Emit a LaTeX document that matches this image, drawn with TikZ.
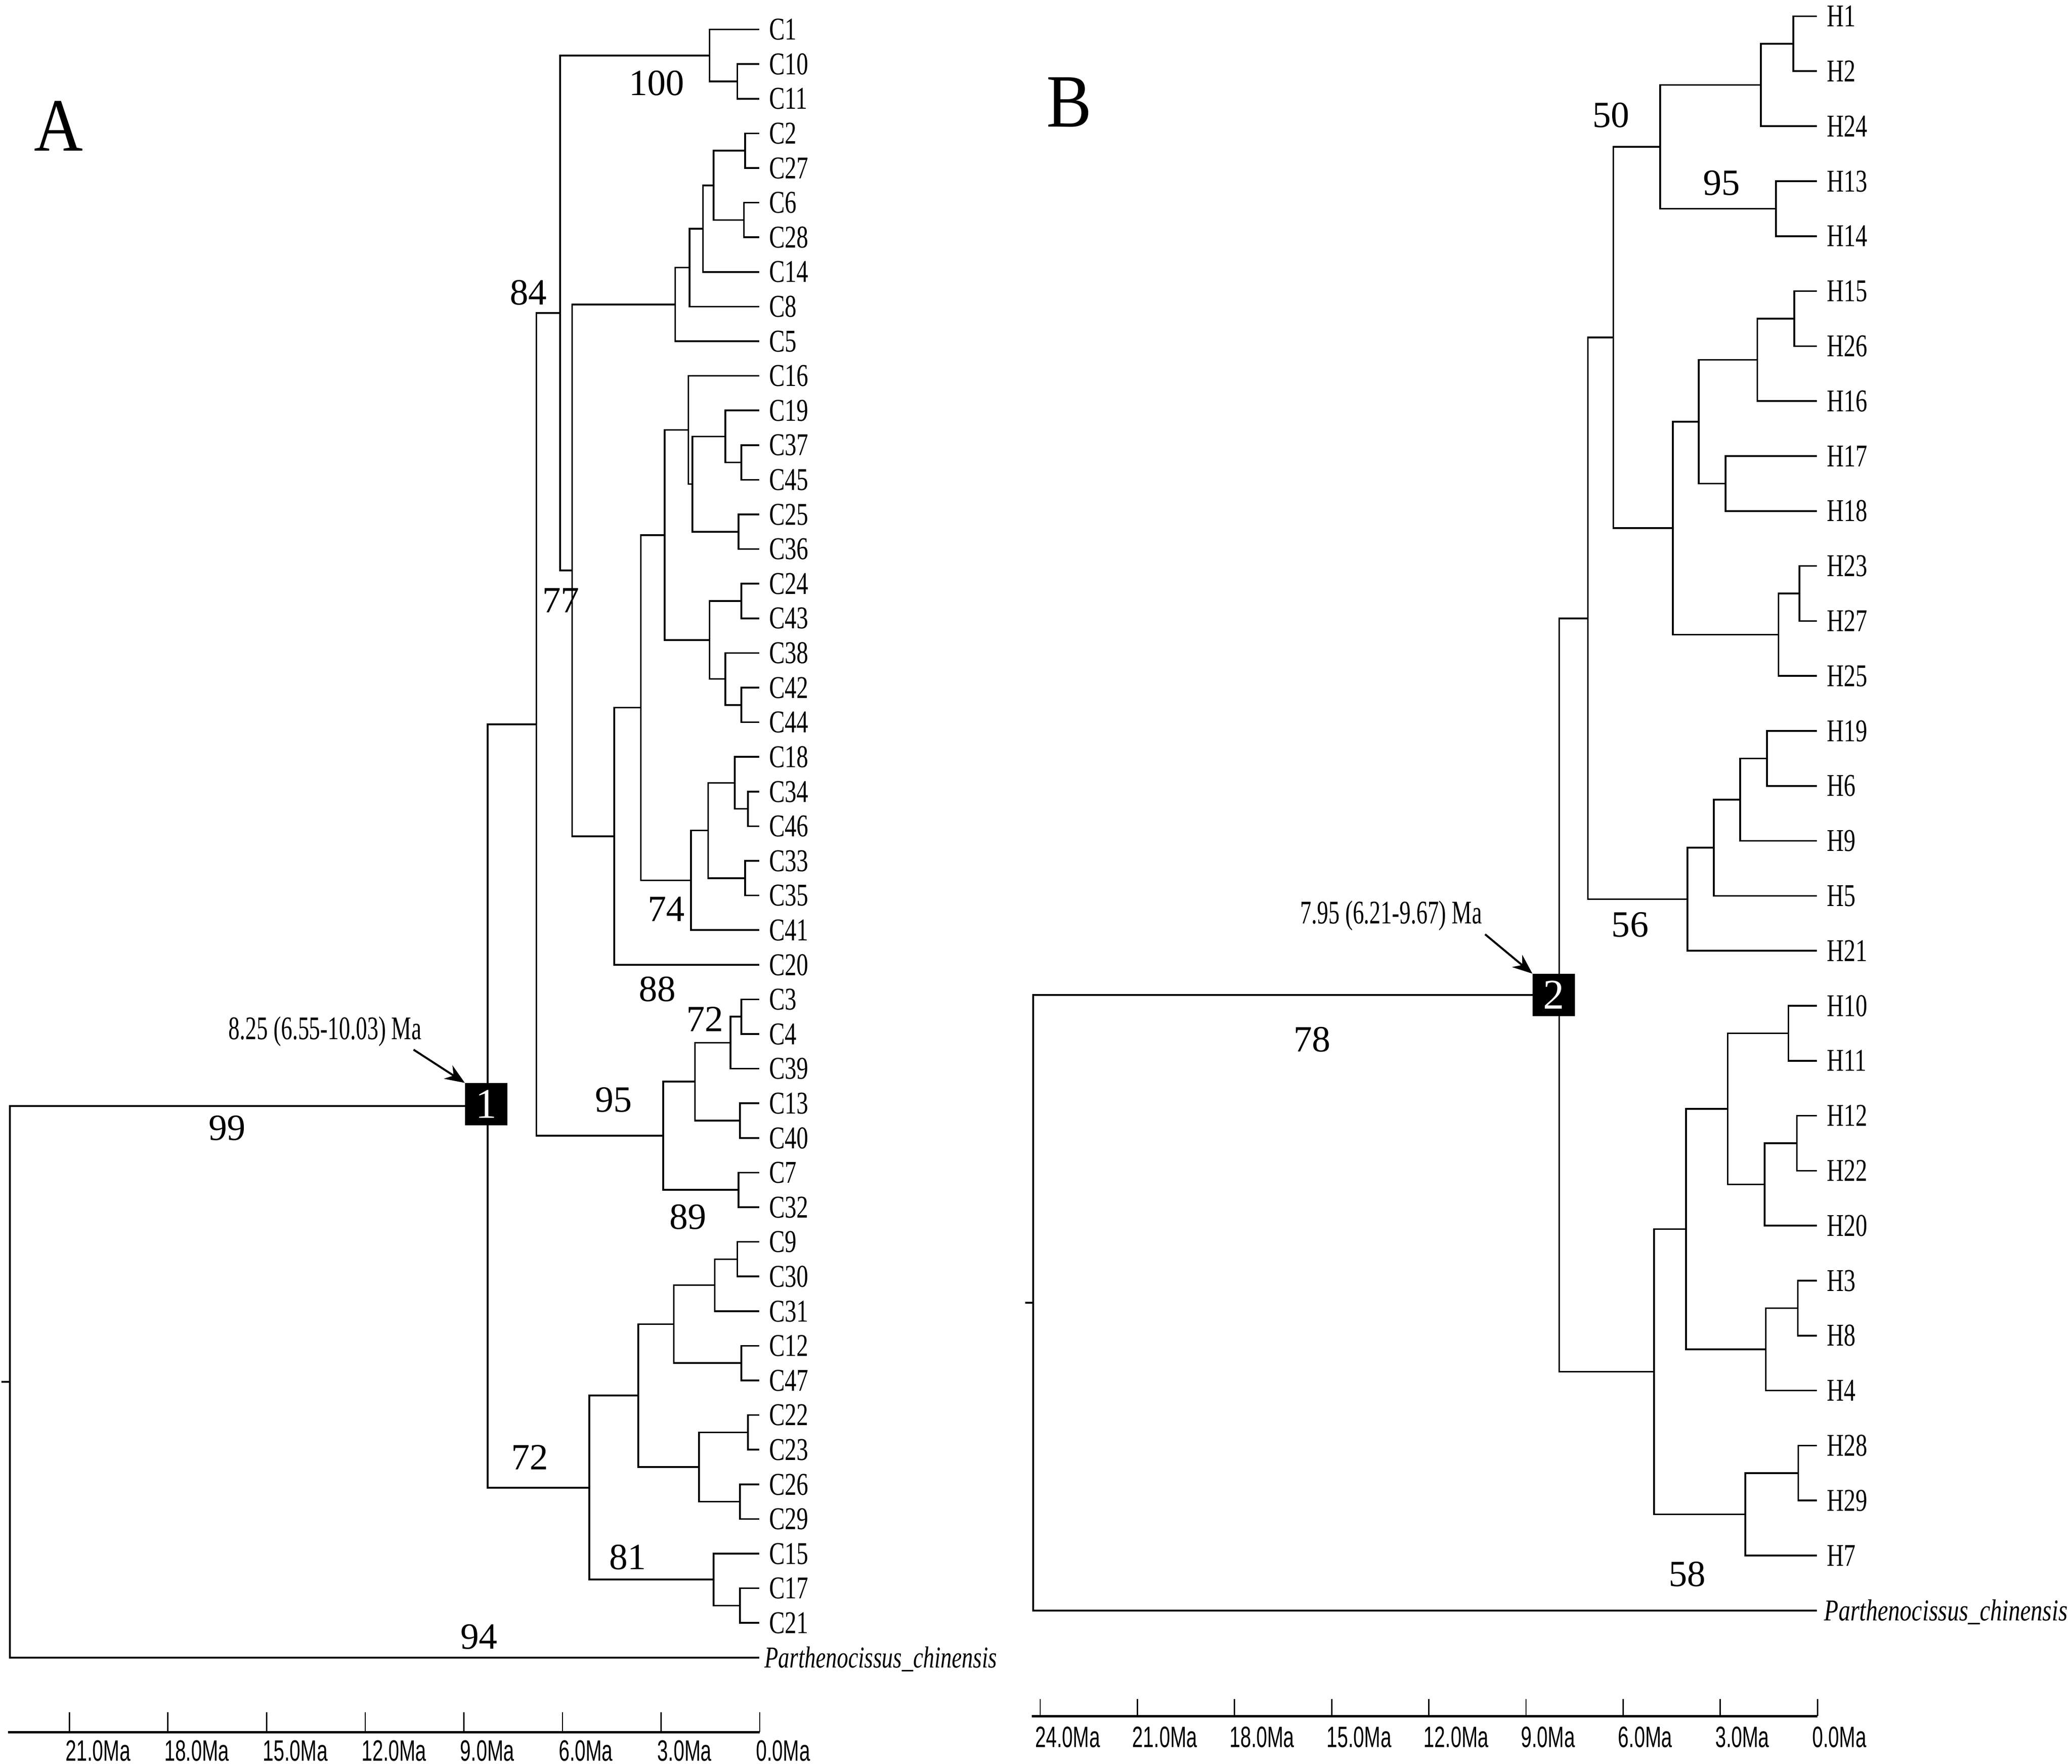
\documentclass[tikz,border=0pt]{standalone}
\usepackage{fontspec}
\setmainfont{Liberation Serif}
\newfontfamily\leaffont[FakeStretch=0.74]{Liberation Serif}
\newfontfamily\outBfont[FakeStretch=0.775]{Liberation Serif}
\newfontfamily\annfont[FakeStretch=0.68]{Liberation Serif}
\newfontfamily\bsfont{Liberation Serif}
\newfontfamily\panelfont[FakeStretch=0.9]{Liberation Serif}
\newfontfamily\axfont[FakeStretch=0.66]{Liberation Sans}
\usetikzlibrary{calc,arrows.meta}

\newcommand{\mkclade}[4]{%
  \path let \p1=($(#3)!0.5!(#4)$) in coordinate (#1) at (#2pt,\y1);
  \draw[branch] (#3) -| (#1) |- (#4);
}

\tikzset{
  branch/.style={line width=1.3pt, line join=miter},
  leaf/.style={anchor=base west, inner sep=0pt, xshift=7.5pt, yshift=-7.9pt,
    font=\leaffont\fontsize{24}{24}\selectfont},
  outlab/.style={anchor=base west, inner sep=0pt, xshift=4pt, yshift=-7.9pt,
    font=\leaffont\itshape\fontsize{23}{23}\selectfont},
  outlabB/.style={anchor=base west, inner sep=0pt, xshift=5.5pt, yshift=-7.9pt,
    font=\outBfont\itshape\fontsize{23}{23}\selectfont},
  bs/.style={inner sep=0pt, anchor=center, font=\bsfont\fontsize{28}{28}\selectfont},
  numbox/.style={fill=black, text=white, minimum width=32pt, minimum height=32pt,
    inner sep=0pt, font=\bsfont\fontsize{32}{32}\selectfont},
  ann/.style={anchor=base west, inner sep=0pt, font=\annfont\fontsize{25}{25}\selectfont},
  arr/.style={line width=1.5pt, -{Stealth[length=15pt,width=12pt]}},
  panel/.style={anchor=base west, inner sep=0pt, font=\panelfont\fontsize{57}{57}\selectfont},
  axisline/.style={line width=1.8pt},
  tickline/.style={line width=1pt},
  axlab/.style={anchor=base west, inner sep=0pt, font=\axfont\fontsize{22.3}{22.3}\selectfont}
}

\begin{document}
\begin{tikzpicture}[x=1pt,y=-1pt]
\useasboundingbox[fill=white] (0,0) rectangle (1568.2,1335.2);

% ---------------- Panel A leaves ----------------
\foreach \n [count=\i from 0] in {C1,C10,C11,C2,C27,C6,C28,C14,C8,C5,C16,C19,C37,C45,C25,C36,C24,C43,C38,C42,C44,C18,C34,C46,C33,C35,C41,C20,C3,C4,C39,C13,C40,C7,C32,C9,C30,C31,C12,C47,C22,C23,C26,C29,C15,C17,C21}{
  \coordinate (\n) at (574.5,{22.3+26.22*\i});
  \node[leaf] (L\n) at (\n) {\n};
}
\coordinate (PA) at (574.5,1254.6);
\node[outlab] (LPA) at (PA) {Parthenocissus\_chinensis};

% ---------------- Panel A tree ----------------
\mkclade{nA1}{558}{C10}{C11}
\mkclade{nA2}{537}{C1}{nA1}
\mkclade{nA3}{564}{C2}{C27}
\mkclade{nA4}{563}{C6}{C28}
\mkclade{nA5}{540}{nA3}{nA4}
\mkclade{nA6}{532}{nA5}{C14}
\mkclade{nA7}{522}{nA6}{C8}
\mkclade{nA8}{511}{nA7}{C5}
\mkclade{nA9}{561}{C37}{C45}
\mkclade{nA10}{549}{C19}{nA9}
\mkclade{nA11}{559}{C25}{C36}
\mkclade{nA12}{524}{nA10}{nA11}
\mkclade{nA13}{521}{C16}{nA12}
\mkclade{nA14}{561}{C24}{C43}
\mkclade{nA15}{561}{C42}{C44}
\mkclade{nA16}{549}{C38}{nA15}
\mkclade{nA17}{537}{nA14}{nA16}
\mkclade{nA18}{503}{nA13}{nA17}
\mkclade{nA19}{566}{C34}{C46}
\mkclade{nA20}{556}{C18}{nA19}
\mkclade{nA21}{564}{C33}{C35}
\mkclade{nA22}{536}{nA20}{nA21}
\mkclade{nA23}{523}{nA22}{C41}
\mkclade{nA24}{485}{nA18}{nA23}
\mkclade{nA25}{465}{nA24}{C20}
\mkclade{nA26}{433}{nA8}{nA25}
\mkclade{nA27}{424}{nA2}{nA26}
\mkclade{nA28}{561}{C3}{C4}
\mkclade{nA29}{553}{nA28}{C39}
\mkclade{nA30}{560}{C13}{C40}
\mkclade{nA31}{526}{nA29}{nA30}
\mkclade{nA32}{559}{C7}{C32}
\mkclade{nA33}{502}{nA31}{nA32}
\mkclade{nA34}{406}{nA27}{nA33}
\mkclade{nA35}{558}{C9}{C30}
\mkclade{nA36}{541}{nA35}{C31}
\mkclade{nA37}{561}{C12}{C47}
\mkclade{nA38}{510}{nA36}{nA37}
\mkclade{nA39}{566}{C22}{C23}
\mkclade{nA40}{560}{C26}{C29}
\mkclade{nA41}{529}{nA39}{nA40}
\mkclade{nA42}{483}{nA38}{nA41}
\mkclade{nA43}{560}{C17}{C21}
\mkclade{nA44}{540}{C15}{nA43}
\mkclade{nA45}{446}{nA42}{nA44}
\mkclade{node1}{369}{nA34}{nA45}
\mkclade{rootA}{7.5}{node1}{PA}
\coordinate (rAs) at ($(rootA)+(-6.5,0)$);
\draw[branch] (rootA) -- (rAs);

% bootstrap A
\node[bs] (bA100) at (497,63) {100};
\node[bs] (bA84) at (400,221.5) {84};
\node[bs] (bA77) at (424.4,454.4) {77};
\node[bs] (bA74) at (504.4,688) {74};
\node[bs] (bA88) at (497.5,748.8) {88};
\node[bs] (bA72a) at (533.5,771.3) {72};
\node[bs] (bA95) at (464.4,832.5) {95};
\node[bs] (bA89) at (520.7,921.3) {89};
\node[bs] (bA99) at (172,854) {99};
\node[bs] (bA72b) at (401,1103) {72};
\node[bs] (bA81) at (475,1178.7) {81};
\node[bs] (bA94) at (362.5,1239) {94};

% ---------------- Panel B leaves ----------------
\foreach \n [count=\i from 0] in {H1,H2,H24,H13,H14,H15,H26,H16,H17,H18,H23,H27,H25,H19,H6,H9,H5,H21,H10,H11,H12,H22,H20,H3,H8,H4,H28,H29,H7}{
  \coordinate (\n) at (1375,{12.3+41.61*\i});
  \node[leaf] (L\n) at (\n) {\n};
}
\coordinate (PB) at (1375,1219);
\node[outlabB] (LPB) at (PB) {Parthenocissus\_chinensis};

% ---------------- Panel B tree ----------------
\mkclade{nB1}{1357.3}{H1}{H2}
\mkclade{nB2}{1332.7}{nB1}{H24}
\mkclade{nB3}{1344}{H13}{H14}
\mkclade{nB4}{1256.5}{nB2}{nB3}
\mkclade{nB5}{1358}{H15}{H26}
\mkclade{nB6}{1330}{nB5}{H16}
\mkclade{nB7}{1306}{H17}{H18}
\mkclade{nB8}{1285.6}{nB6}{nB7}
\mkclade{nB9}{1362}{H23}{H27}
\mkclade{nB10}{1346}{nB9}{H25}
\mkclade{nB11}{1266}{nB8}{nB10}
\mkclade{nB12}{1221}{nB4}{nB11}
\mkclade{nB13}{1337.4}{H19}{H6}
\mkclade{nB14}{1317}{nB13}{H9}
\mkclade{nB15}{1297}{nB14}{H5}
\mkclade{nB16}{1277.2}{nB15}{H21}
\mkclade{nB17}{1201.8}{nB12}{nB16}
\mkclade{nB18}{1353.6}{H10}{H11}
\mkclade{nB19}{1360}{H12}{H22}
\mkclade{nB20}{1335.6}{nB19}{H20}
\mkclade{nB21}{1307.6}{nB18}{nB20}
\mkclade{nB22}{1360.7}{H3}{H8}
\mkclade{nB23}{1336.4}{nB22}{H4}
\mkclade{nB24}{1276}{nB21}{nB23}
\mkclade{nB25}{1361}{H28}{H29}
\mkclade{nB26}{1321}{nB25}{H7}
\mkclade{nB27}{1251.8}{nB24}{nB26}
\mkclade{node2}{1180}{nB17}{nB27}
\mkclade{rootB}{782}{node2}{PB}
\coordinate (rBs) at ($(rootB)+(-6,0)$);
\draw[branch] (rootB) -- (rBs);

% bootstrap B
\node[bs] (bB50) at (1219.3,87.2) {50};
\node[bs] (bB95) at (1303,138.4) {95};
\node[bs] (bB56) at (1233.7,700) {56};
\node[bs] (bB58) at (1277,1191.4) {58};
\node[bs] (bB78) at (993,787) {78};

% ---------------- calibration boxes and notes ----------------
\node[numbox] (box1) at ([xshift=-1pt,yshift=1.3pt]node1) {1};
\node[numbox] (box2) at ([xshift=-4pt]node2) {2};
\node[ann] (ann1) at (172.9,786.6) {8.25 (6.55-10.03) Ma};
\node[ann] (ann2) at (984,699.2) {7.95 (6.21-9.67) Ma};
\coordinate (a1s) at (313,794.5);
\coordinate (a2s) at (1124,707.2);
\draw[arr] (a1s) -- (box1.north west);
\draw[arr] (a2s) -- (box2.north west);

% panel letters
\node[panel] (pA) at (25.5,114.2) {A};
\node[panel] (pB) at (792,96) {B};

% ---------------- axes ----------------
\coordinate (axA0) at (6,1311);
\coordinate (axA1) at (575,1311);
\draw[axisline] (axA0) -- (axA1);
\foreach \k/\lab in {0/21.0Ma,1/18.0Ma,2/15.0Ma,3/12.0Ma,4/9.0Ma,5/6.0Ma,6/3.0Ma,7/0.0Ma}{
  \coordinate (tA\k) at ({52.5+74.643*\k},1311);
  \coordinate (tAt\k) at ({52.5+74.643*\k},1296);
  \draw[tickline] (tA\k) -- (tAt\k);
  \node[axlab] (lA\k) at ($(tA\k)+(-3,22)$) {\lab};
}
\coordinate (axB0) at (781,1299);
\coordinate (axB1) at (1375.5,1299);
\draw[axisline] (axB0) -- (axB1);
\foreach \k/\lab in {0/24.0Ma,1/21.0Ma,2/18.0Ma,3/15.0Ma,4/12.0Ma,5/9.0Ma,6/6.0Ma,7/3.0Ma,8/0.0Ma}{
  \coordinate (tB\k) at ({787.3+73.525*\k},1299);
  \coordinate (tBt\k) at ({787.3+73.525*\k},1286);
  \draw[tickline] (tB\k) -- (tBt\k);
  \node[axlab] (lB\k) at ($(tB\k)+(-4,23.5)$) {\lab};
}
\end{tikzpicture}
\end{document}
